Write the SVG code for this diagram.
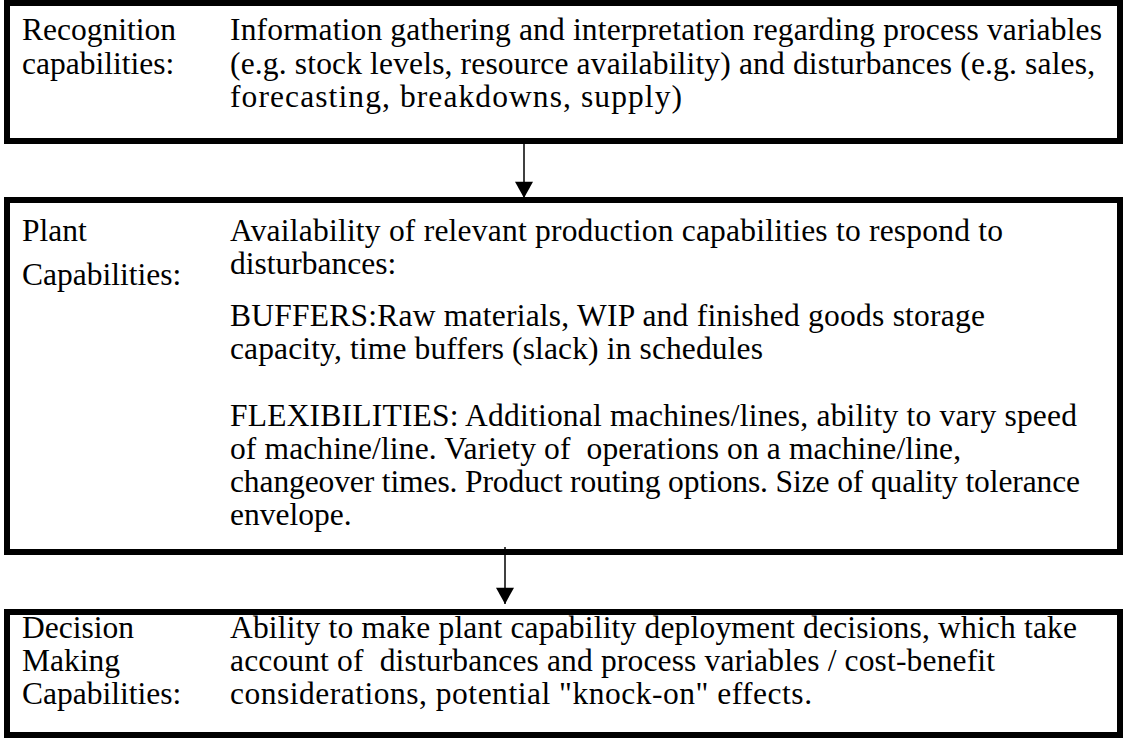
<svg xmlns="http://www.w3.org/2000/svg" width="1123" height="738" viewBox="0 0 1123 738">
<defs>
<style>
.box{fill:#fff;stroke:#000;stroke-width:6}
.t{font-family:'Liberation Serif','Times New Roman',Times,serif;font-size:31.5px;fill:#000}
.conn{stroke:#000;stroke-width:1.5;fill:none}
</style>
<marker id="ah" markerUnits="userSpaceOnUse" markerWidth="20" markerHeight="18" refX="18" refY="10" orient="auto" viewBox="0 0 18 20">
<path d="M0,0 L18,10 L0,20 Z" fill="#000"/>
</marker>
</defs>
<rect width="1123" height="738" fill="#fff"/>
<g id="recognition" class="t">
<rect class="box" x="7" y="3" width="1113" height="138"/>
<text x="22" y="40">Recognition</text>
<text x="22" y="74">capabilities:</text>
<text x="230" y="40" textLength="872" lengthAdjust="spacing">Information gathering and interpretation regarding process variables</text>
<text x="230" y="74" textLength="865" lengthAdjust="spacing">(e.g. stock levels, resource availability) and disturbances (e.g. sales,</text>
<text x="230" y="107" textLength="452" lengthAdjust="spacing">forecasting, breakdowns, supply)</text>
</g>
<g id="plant" class="t">
<rect class="box" x="7" y="200" width="1113" height="352"/>
<text x="22" y="241">Plant</text>
<text x="22" y="285">Capabilities:</text>
<text x="230" y="241" textLength="773" lengthAdjust="spacing">Availability of relevant production capabilities to respond to</text>
<text x="230" y="274">disturbances:</text>
<text x="230" y="326" textLength="755" lengthAdjust="spacing">BUFFERS:Raw materials, WIP and finished goods storage</text>
<text x="230" y="359" textLength="533" lengthAdjust="spacing">capacity, time buffers (slack) in schedules</text>
<text x="230" y="426" textLength="847" lengthAdjust="spacing">FLEXIBILITIES: Additional machines/lines, ability to vary speed</text>
<text x="230" y="459" xml:space="preserve" textLength="731" lengthAdjust="spacing">of machine/line. Variety of  operations on a machine/line,</text>
<text x="230" y="492" textLength="850" lengthAdjust="spacing">changeover times. Product routing options. Size of quality tolerance</text>
<text x="230" y="525">envelope.</text>
</g>
<g id="decision" class="t">
<rect class="box" x="7" y="612" width="1113" height="123"/>
<text x="22" y="638">Decision</text>
<text x="22" y="671">Making</text>
<text x="22" y="704">Capabilities:</text>
<text x="230" y="638" textLength="847" lengthAdjust="spacing">Ability to make plant capability deployment decisions, which take</text>
<text x="230" y="671" xml:space="preserve" textLength="765" lengthAdjust="spacing">account of  disturbances and process variables / cost-benefit</text>
<text x="230" y="704" textLength="582" lengthAdjust="spacing">considerations, potential "knock-on" effects.</text>
</g>
<g id="connectors">
<line class="conn" x1="524" y1="144" x2="524" y2="198" marker-end="url(#ah)"/>
<line class="conn" x1="505" y1="547" x2="505" y2="604" marker-end="url(#ah)"/>
</g>
</svg>
